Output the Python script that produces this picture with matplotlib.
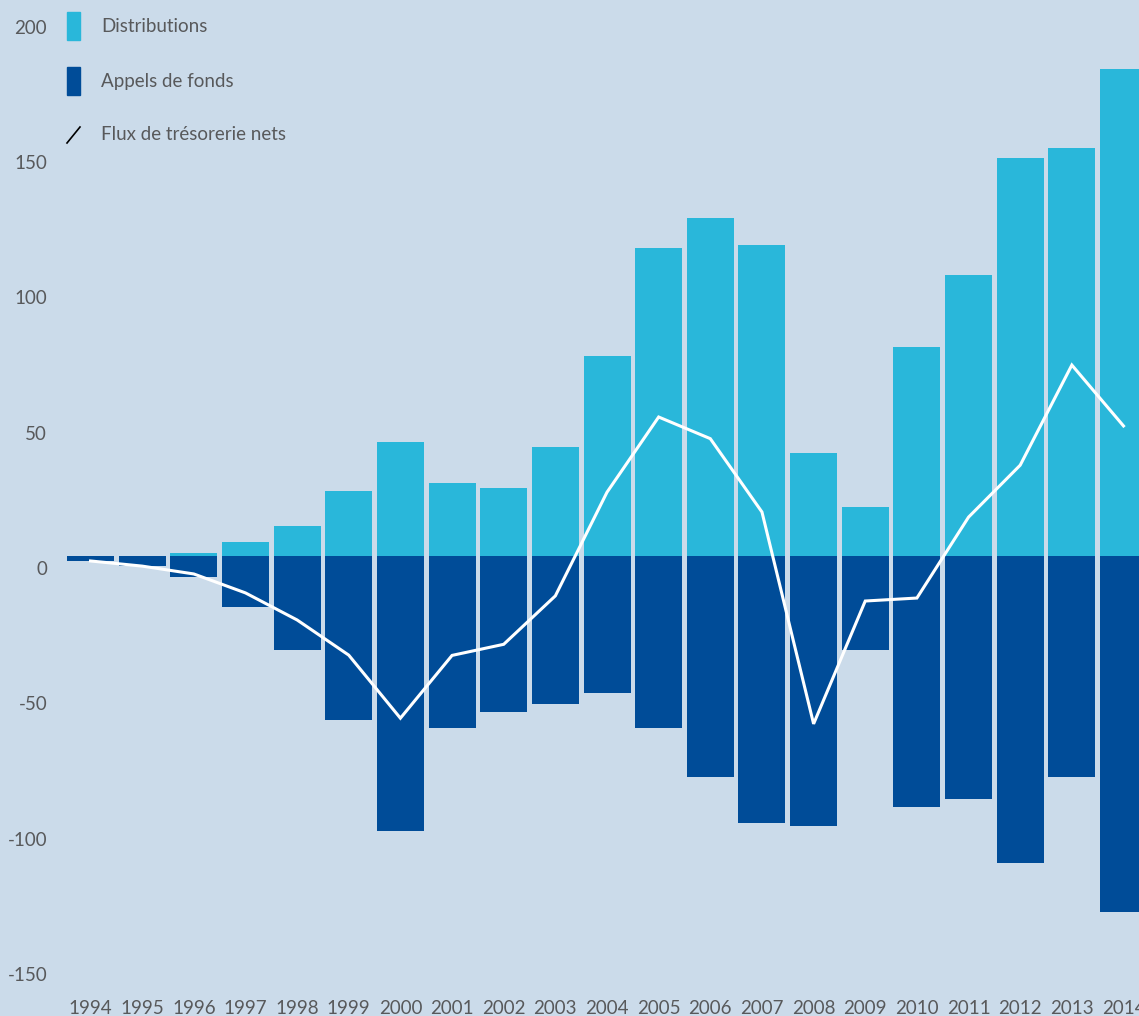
import matplotlib
matplotlib.use("Agg")
import matplotlib.pyplot as plt
import numpy as np
from matplotlib.patches import Rectangle
from matplotlib.lines import Line2D

years = [str(y) for y in range(1994, 2015)]
# distributions (above the bar baseline) and capital calls (below it)
distributions = [0, 0, 1.1, 5.2, 11.1, 24, 42.1, 27, 25.1, 40.3, 73.9,
                 113.8, 124.9, 114.9, 38.1, 18.1, 77.2, 103.8, 147.1, 150.8, 180]
appels = [1.8, 3.6, 7.6, 18.7, 34.7, 60.6, 101.6, 63.6, 57.5, 54.6, 50.5,
          63.4, 81.6, 98.6, 99.7, 34.7, 92.6, 89.8, 113.5, 81.7, 131.6]
# net cash flow, read on the axis scale
flux_nets = [2.6, 0.7, -2.2, -9.2, -19.2, -32.2, -55.5, -32.3, -28.2, -10.3, 28,
             55.8, 47.8, 20.7, -57.6, -12.2, -11.1, 18.8, 38, 75, 52.5]
yticks = [200, 150, 100, 50, 0, -50, -100, -150]
baseline = 4.43  # bars sit a little above the 0 tick in the original

bg = "#cbdbea"
light = "#29b7da"
dark = "#004c98"
txt = "#58595b"

plt.rcParams["font.family"] = ["Lato", "DejaVu Sans"]
fs = 13.5

W, H = 1139, 1016
fig = plt.figure(figsize=(W / 100, H / 100), dpi=100)
fig.patch.set_facecolor(bg)

bottom_px = 992
ax = fig.add_axes([0, (H - bottom_px) / H, 1, bottom_px / H])
ax.set_facecolor(bg)

ppu = 2.706  # pixels per unit
zero_px = 568
ax.set_ylim(-(bottom_px - zero_px) / ppu, zero_px / ppu)
pitch = 51.65
ax.set_xlim(-90.5 / pitch, (W - 90.5) / pitch)

x = np.arange(len(years))
bw = 47 / pitch
ax.bar(x, distributions, bw, bottom=baseline, color=light, linewidth=0)
ax.bar(x, [-a for a in appels], bw, bottom=baseline, color=dark, linewidth=0)
ax.plot(x, flux_nets, color="white", lw=2.2, solid_joinstyle="miter")

for s in ax.spines.values():
    s.set_visible(False)

ax.set_yticks(yticks)
ax.set_yticklabels([str(v) for v in yticks])
ax.tick_params(axis="y", length=0, pad=-34, labelsize=fs, labelcolor=txt)
ax.set_xticks(x)
ax.set_xticklabels(years)
ax.tick_params(axis="x", length=0, pad=6, labelsize=fs, labelcolor=txt)

# legend, drawn by hand in pixel coordinates
def px(xp, yp):
    return xp / W, 1 - yp / H

fig.add_artist(Rectangle(px(67, 40), 13 / W, 28 / H, color=light, transform=fig.transFigure))
fig.add_artist(Rectangle(px(67, 95), 13 / W, 28 / H, color=dark, transform=fig.transFigure))
x0, y0 = px(67, 143)
x1, y1 = px(80, 127)
fig.add_artist(Line2D([x0, x1], [y0, y1], color="black", lw=1.2, transform=fig.transFigure))
for label, yp in [("Distributions", 27), ("Appels de fonds", 82), ("Flux de trésorerie nets", 135)]:
    fig.text(101 / W, 1 - yp / H, label, fontsize=fs, color=txt, va="center", ha="left")

fig.savefig("out.png", dpi=100, facecolor=bg)
